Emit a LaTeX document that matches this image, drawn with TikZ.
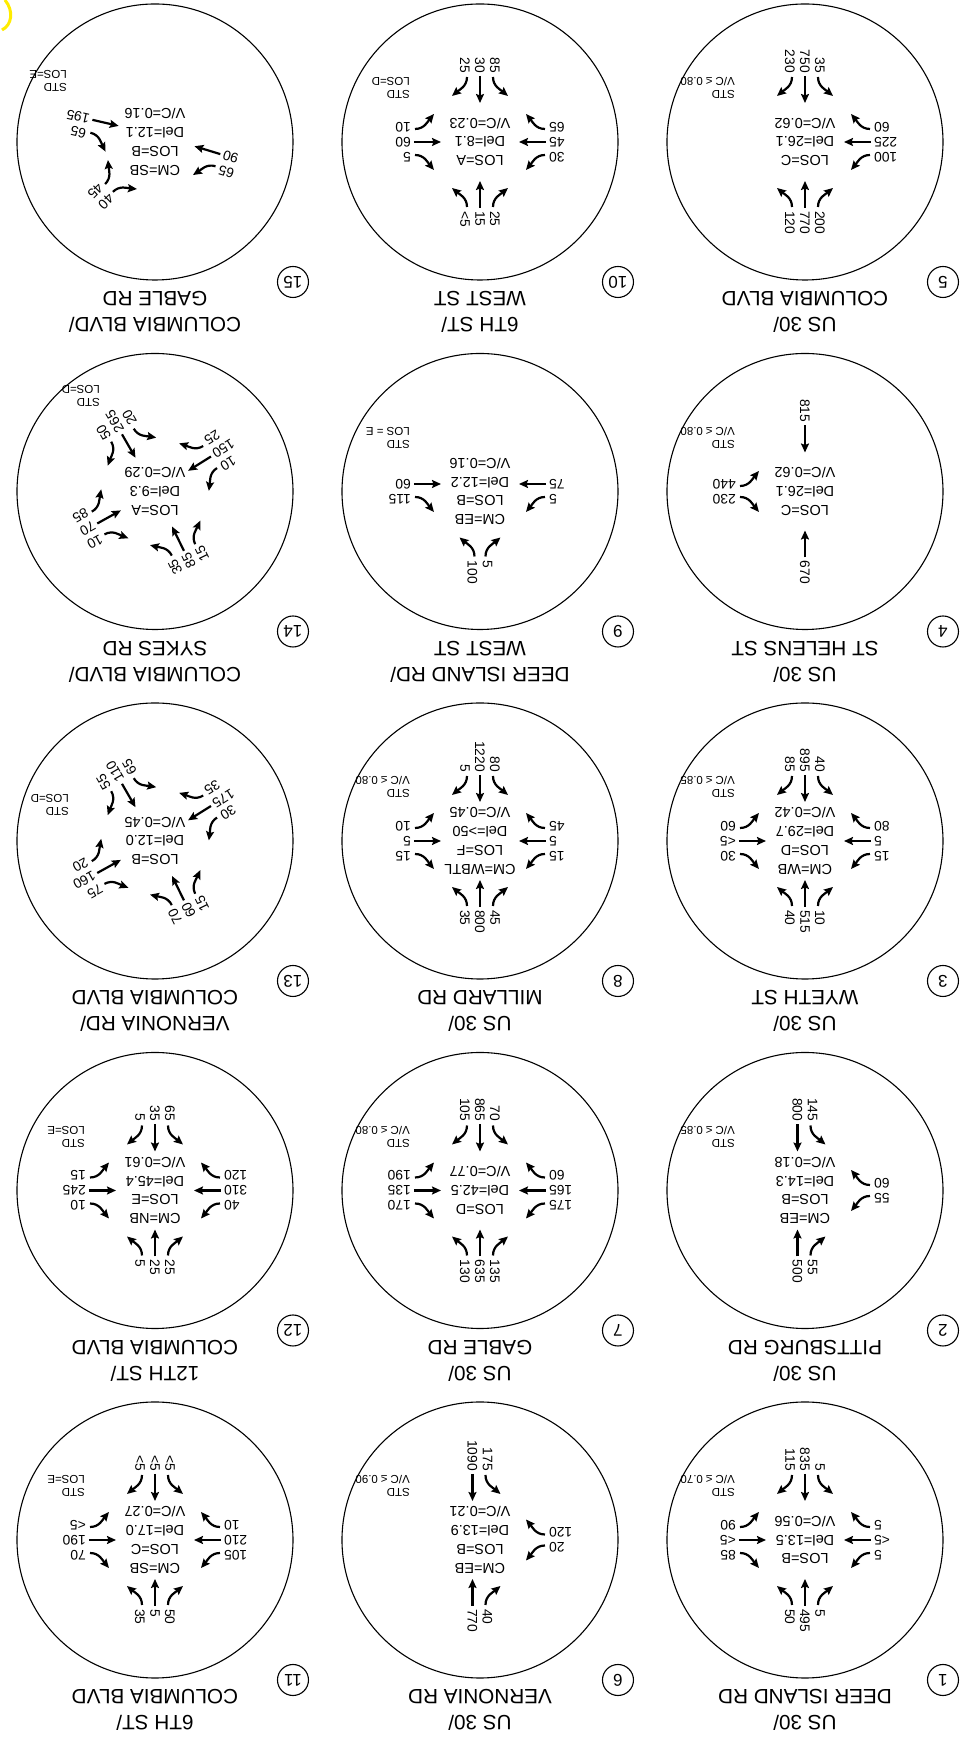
\documentclass[tikz,border=0pt]{standalone}
\usepackage{fontspec}
\setmainfont{Liberation Sans}
\usetikzlibrary{arrows.meta}

\definecolor{hilite}{RGB}{255,236,0}

\tikzset{
  ring/.style={line width=1.1pt},
  mv/.style={line width=2.2pt, -{Stealth[length=9pt,width=8pt,inset=1.5pt]}},
  vol/.style={inner sep=0pt, font=\fontsize{13.8}{14}\selectfont},
  mid/.style={inner sep=0pt, align=center, font=\fontsize{14.5}{18.7}\selectfont},
  std/.style={inner sep=0pt, align=left, anchor=north west, font=\fontsize{11.5}{13}\selectfont},
  title/.style={inner sep=0pt, align=center, font=\fontsize{20.7}{26}\selectfont},
  tag/.style={circle, draw, line width=1.1pt, minimum size=31pt, inner sep=0pt, font=\fontsize{17}{17}\selectfont}
}

% one approach: angle, text angle, text anchor, left, through, right
\newcommand\leg[6]{%
  \def\legxl{-15}\def\legxt{0}\def\legxr{15}%
  \ifx\relax#4\relax\def\legxt{-7.5}\def\legxr{7.5}\fi
  \ifx\relax#5\relax\def\legxl{-7.5}\def\legxr{7.5}\fi
  \ifx\relax#6\relax\def\legxl{-7.5}\def\legxt{7.5}\fi
  \ifx\relax#4#6\relax\def\legxt{0}\fi
  \begin{scope}[rotate=#1]
    \ifx\relax#4\relax\else
      \draw[mv] (\legxl+2,-65) to[out=90,in=-40] (\legxl-13,-46);
      \node[vol,rotate={#2-(#1)},anchor=#3] at (\legxl,-69) {#4};
    \fi
    \ifx\relax#5\relax\else
      \draw[mv] (\legxt,-66) -- (\legxt,-39);
      \node[vol,rotate={#2-(#1)},anchor=#3] at (\legxt,-69) {#5};
    \fi
    \ifx\relax#6\relax\else
      \draw[mv] (\legxr-2,-65) to[out=90,in=220] (\legxr+13,-46);
      \node[vol,rotate={#2-(#1)},anchor=#3] at (\legxr,-69) {#6};
    \fi
  \end{scope}}
\newcommand\legbot[3]{\leg{0}{90}{east}{#1}{#2}{#3}}
\newcommand\legtop[3]{\leg{180}{90}{west}{#1}{#2}{#3}}
\newcommand\legleft[3]{\leg{-90}{0}{east}{#1}{#2}{#3}}
\newcommand\legright[3]{\leg{90}{0}{west}{#1}{#2}{#3}}

% circle, number and street names
\newcommand\site[2]{%
  \draw[ring] (0,0) circle (138);
  \node[tag] at (-138,140) {#1};
  \node[title] at (0,170) {#2};}

\begin{document}
\begin{tikzpicture}[x=1pt, y=1pt, rotate=180, transform shape]
\useasboundingbox (0,0) rectangle (964,-1741);

% 1
\begin{scope}[shift={(159,-201)}]
  \site{1}{US 30/\\DEER ISLAND RD}
  \node[mid] {LOS=B\\Del=13.5\\V/C=0.56};
  \node[std] at (70,-43) {STD\\V/C ≤ 0.70};
  \legbot{5}{835}{115} \legtop{50}{495}{5}
  \legleft{5}{<5}{5} \legright{90}{<5}{85}
\end{scope}
% 2
\begin{scope}[shift={(159,-550.5)}]
  \site{2}{US 30/\\PITTSBURG RD}
  \node[mid] {CM=EB\\LOS=B\\Del=14.3\\V/C=0.18};
  \node[std] at (70,-43) {STD\\V/C ≤ 0.85};
  \legbot{145}{800}{} \legtop{}{500}{55}
  \legleft{55}{}{60}
\end{scope}
% 3
\begin{scope}[shift={(159,-900)}]
  \site{3}{US 30/\\WYETH ST}
  \node[mid] {CM=WB\\LOS=D\\Del=29.7\\V/C=0.42};
  \node[std] at (70,-43) {STD\\V/C ≤ 0.85};
  \legbot{40}{895}{85} \legtop{40}{515}{10}
  \legleft{15}{5}{80} \legright{60}{<5}{30}
\end{scope}
% 4
\begin{scope}[shift={(159,-1249.5)}]
  \site{4}{US 30/\\ST HELENS ST}
  \node[mid] {LOS=C\\Del=26.1\\V/C=0.62};
  \node[std] at (70,-43) {STD\\V/C ≤ 0.80};
  \legbot{}{815}{} \legtop{}{670}{}
  \legright{440}{}{230}
\end{scope}
% 5
\begin{scope}[shift={(159,-1599)}]
  \site{5}{US 30/\\COLUMBIA BLVD}
  \node[mid] {LOS=C\\Del=26.1\\V/C=0.62};
  \node[std] at (70,-43) {STD\\V/C ≤ 0.80};
  \legbot{35}{750}{230} \legtop{120}{770}{200}
  \legleft{100}{225}{60}
\end{scope}

% 6
\begin{scope}[shift={(484,-201)}]
  \site{6}{US 30/\\VERNONIA RD}
  \node[mid] {CM=EB\\LOS=B\\Del=13.9\\V/C=0.21};
  \node[std] at (70,-43) {STD\\V/C ≤ 0.90};
  \legbot{175}{1090}{} \legtop{}{770}{40}
  \legleft{20}{}{120}
\end{scope}
% 7
\begin{scope}[shift={(484,-550.5)}]
  \site{7}{US 30/\\GABLE RD}
  \node[mid] {LOS=D\\Del=42.5\\V/C=0.77};
  \node[std] at (70,-43) {STD\\V/C ≤ 0.80};
  \legbot{70}{865}{105} \legtop{130}{635}{135}
  \legleft{175}{165}{60} \legright{190}{135}{170}
\end{scope}
% 8
\begin{scope}[shift={(484,-900)}]
  \site{8}{US 30/\\MILLARD RD}
  \node[mid] {CM=WBTL\\LOS=F\\Del=>50\\V/C=0.45};
  \node[std] at (70,-43) {STD\\V/C ≤ 0.80};
  \legbot{80}{1220}{5} \legtop{35}{800}{45}
  \legleft{15}{5}{45} \legright{10}{5}{15}
\end{scope}
% 9
\begin{scope}[shift={(484,-1249.5)}]
  \site{9}{DEER ISLAND RD/\\WEST ST}
  \node[mid] {CM=EB\\LOS=B\\Del=12.2\\V/C=0.16};
  \node[std] at (70,-43) {STD\\LOS = E};
  \legtop{100}{}{5}
  \legleft{5}{75}{} \legright{}{60}{115}
\end{scope}
% 10
\begin{scope}[shift={(484,-1599)}]
  \site{10}{6TH ST/\\WEST ST}
  \node[mid] {LOS=A\\Del=8.1\\V/C=0.23};
  \node[std] at (70,-43) {STD\\LOS=D};
  \legbot{85}{30}{25} \legtop{<5}{15}{25}
  \legleft{30}{45}{65} \legright{10}{60}{5}
\end{scope}

% 11
\begin{scope}[shift={(809,-201)}]
  \site{11}{6TH ST/\\COLUMBIA BLVD}
  \node[mid] {CM=SB\\LOS=C\\Del=17.0\\V/C=0.27};
  \node[std] at (70,-43) {STD\\LOS=E};
  \legbot{<5}{<5}{<5} \legtop{35}{5}{50}
  \legleft{105}{210}{10} \legright{<5}{190}{70}
\end{scope}
% 12
\begin{scope}[shift={(809,-550.5)}]
  \site{12}{12TH ST/\\COLUMBIA BLVD}
  \node[mid] {CM=NB\\LOS=E\\Del=45.4\\V/C=0.61};
  \node[std] at (70,-43) {STD\\LOS=E};
  \legbot{65}{35}{5} \legtop{5}{25}{25}
  \legleft{40}{310}{120} \legright{15}{245}{10}
\end{scope}
% 13
\begin{scope}[shift={(809,-900)}]
  \site{13}{VERNONIA RD/\\COLUMBIA BLVD}
  \node[mid] {LOS=B\\Del=12.0\\V/C=0.45};
  \node[std] at (86,-25) {STD\\LOS=D};
  \leg{119}{29}{west}{20}{160}{75}
  \leg{-154}{-64}{east}{70}{60}{15}
  \leg{-58}{32}{east}{30}{175}{35}
  \leg{30}{-60}{west}{65}{110}{55}
\end{scope}
% 14
\begin{scope}[shift={(809,-1249.5)}]
  \site{14}{COLUMBIA BLVD/\\SYKES RD}
  \node[mid] {LOS=A\\Del=9.3\\V/C=0.29};
  \node[std] at (55,-85) {STD\\LOS=D};
  \leg{119}{29}{west}{85}{70}{10}
  \leg{-154}{-64}{east}{35}{85}{15}
  \leg{-58}{32}{east}{10}{150}{25}
  \leg{30}{-60}{west}{20}{265}{50}
\end{scope}
% 15
\begin{scope}[shift={(809,-1599)}]
  \site{15}{COLUMBIA BLVD/\\GABLE RD}
  \node[mid] {CM=SB\\LOS=B\\Del=12.1\\V/C=0.16};
  \node[std] at (88,-50) {STD\\LOS=E};
  \leg{-107}{-17}{east}{65}{90}{}
  \leg{77}{-13}{west}{}{195}{65}
  \leg{135}{45}{west}{45}{}{40}
\end{scope}

\draw[hilite, line width=3pt] (959,-1741) .. controls (950,-1730) and (952,-1716) .. (962,-1711);
\end{tikzpicture}
\end{document}
